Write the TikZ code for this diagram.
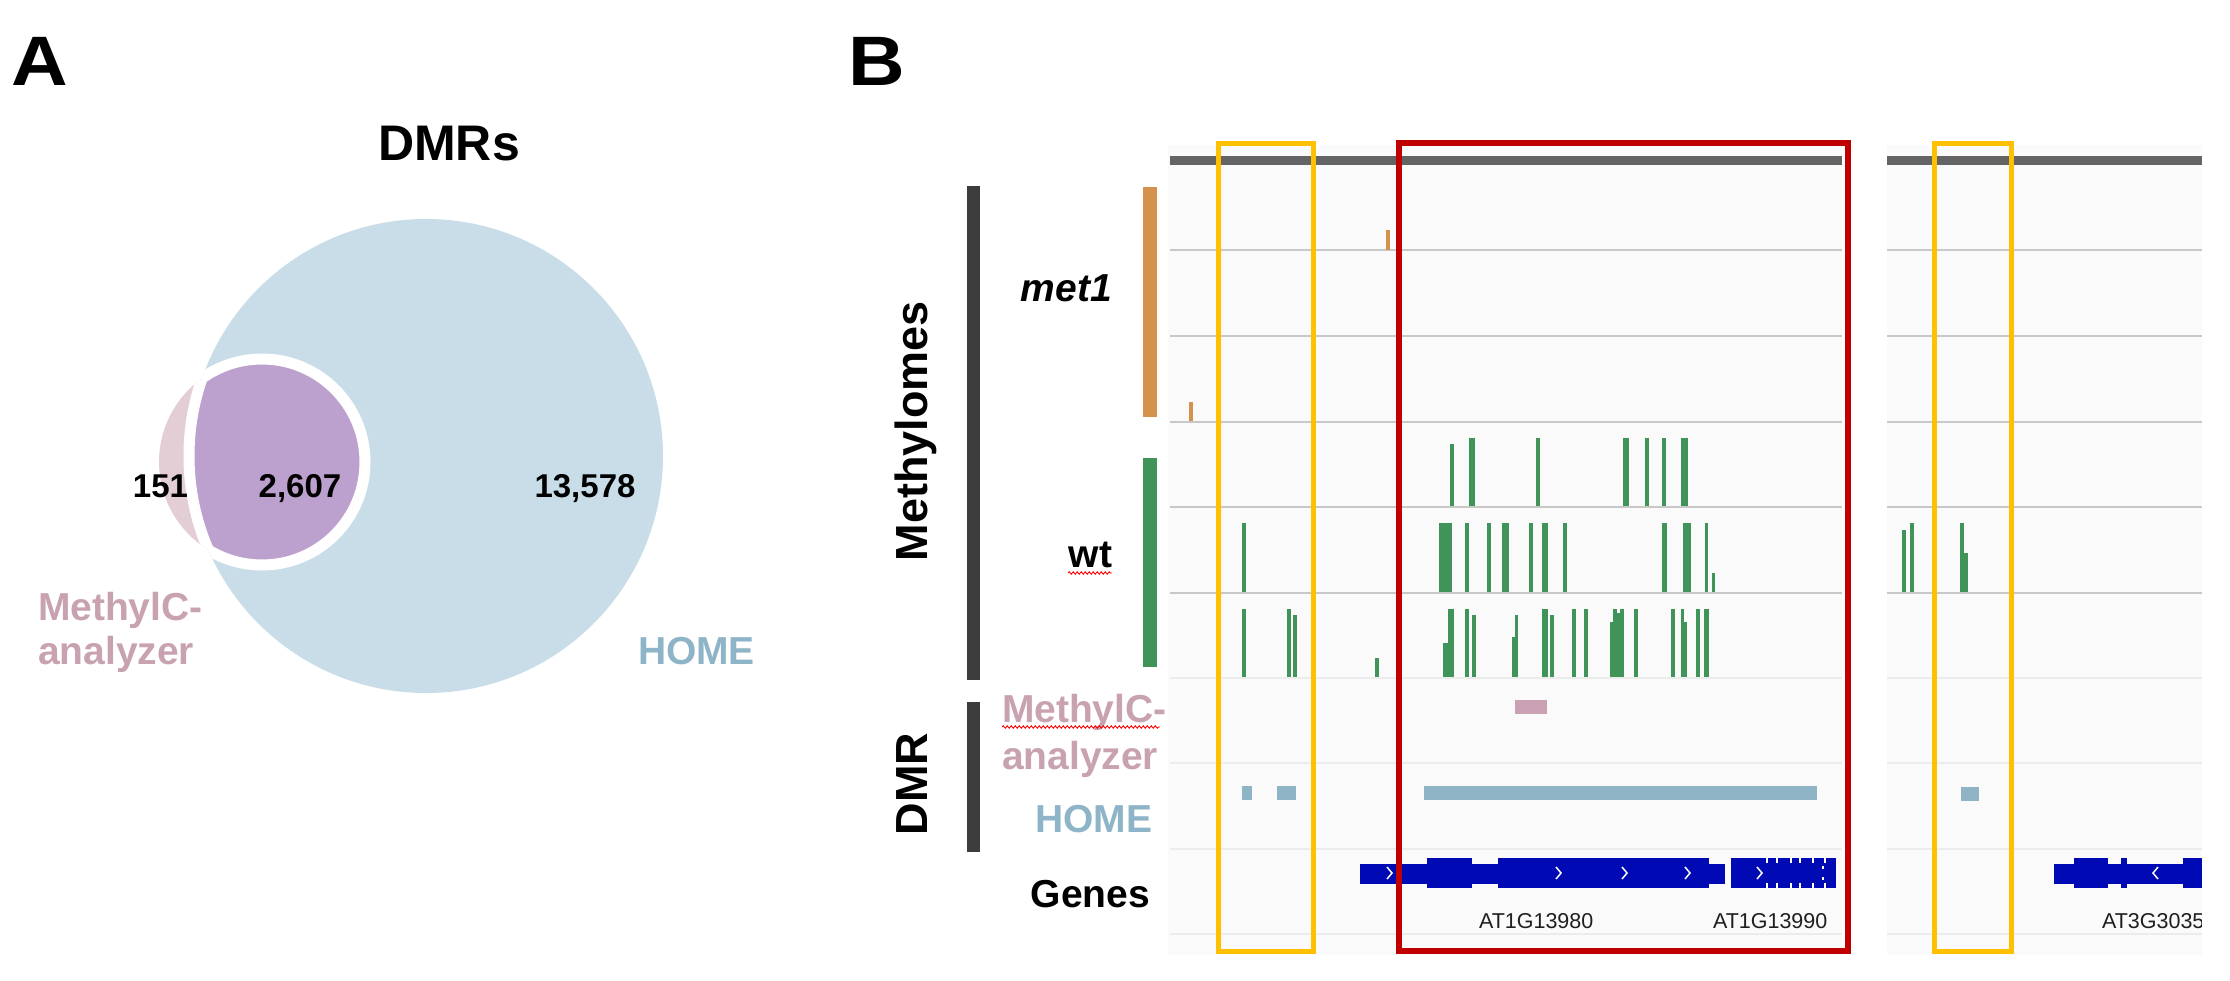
\documentclass[tikz,border=0pt]{standalone}
\usepackage{fontspec}
\setmainfont{Liberation Sans}
\usetikzlibrary{decorations.pathmorphing}
\definecolor{vblue}{RGB}{200,221,232}
\definecolor{vpurple}{RGB}{188,160,205}
\definecolor{vpink}{RGB}{228,206,214}
\definecolor{mctext}{RGB}{201,162,177}
\definecolor{hometext}{RGB}{142,180,200}
\definecolor{homebar}{RGB}{143,180,198}
\definecolor{mcbar}{RGB}{202,161,178}
\definecolor{orng}{RGB}{213,146,77}
\definecolor{grn}{RGB}{64,148,90}
\definecolor{darkbar}{RGB}{60,60,60}
\definecolor{genec}{RGB}{0,10,180}
\definecolor{ylw}{RGB}{255,192,0}
\definecolor{rd}{RGB}{192,0,0}
\definecolor{panelbg}{RGB}{250,250,250}
\definecolor{lnstrong}{RGB}{200,200,200}
\definecolor{lnfaint}{RGB}{236,236,236}
\definecolor{topbar}{RGB}{100,100,100}
\newcommand{\fsz}[1]{\fontsize{#1}{#1}\selectfont}
\newcommand{\gb}[3]{\fill[grn] (#1,#3) rectangle (#2,\tbase);}
\newcommand{\gthin}[2]{\fill[genec] (#1,864) rectangle (#2,884);}
\newcommand{\gthick}[2]{\fill[genec] (#1,858) rectangle (#2,888);}
\newcommand{\chevr}[1]{\draw[white, line width=1.5pt] (#1-3,867) -- (#1+2,873) -- (#1-3,879);}
\newcommand{\chevl}[1]{\draw[white, line width=1.5pt] (#1+3,867) -- (#1-2,873) -- (#1+3,879);}
\begin{document}
\begin{tikzpicture}[x=1pt,y=-1pt,
  every node/.style={inner sep=0pt, outer sep=0pt},
  big/.style={font=\bfseries\fsz{70}},
  lbl/.style={font=\bfseries\fsz{39}},
  num/.style={font=\bfseries\fsz{33}},
  side/.style={font=\bfseries\fsz{45}, rotate=90, anchor=base},
  glbl/.style={font=\fsz{21.5}, text=black!88},
  strongline/.style={draw=lnstrong, line width=2.5pt},
  faintline/.style={draw=lnfaint, line width=2pt},
  squig/.style={draw=red, line width=0.9pt, decorate, decoration={snake, amplitude=1.2pt, segment length=4pt}},
  boxy/.style={draw=ylw, line width=5pt},
  boxr/.style={draw=rd, line width=6pt}]
\useasboundingbox (0,0) rectangle (2230,980);
\fill[white] (0,0) rectangle (2230,980);

% ---------------- Panel A ----------------
\node[big, anchor=base west] (labA) at (12,85) {\scalebox{1.12}[1]{A}};
\node[font=\bfseries\fsz{50}, anchor=base] (dmrs) at (449,160) {DMRs};
\fill[vblue] (426,456) circle[radius=237];
\fill[vpink] (262,462) circle[radius=103];
\begin{scope}
  \clip (426,456) circle[radius=237];
  \fill[vpurple] (262,462) circle[radius=103];
  \draw[white, line width=11pt] (262,462) circle[radius=103];
\end{scope}
\begin{scope}
  \clip (262,462) circle[radius=103];
  \draw[white, line width=11pt] (426,456) circle[radius=237];
\end{scope}
\node[num, anchor=base east] (n151) at (188,497) {151};
\node[num, anchor=base] (n2607) at (300,497) {2,607};
\node[num, anchor=base] (n13578) at (585,497) {13,578};
\node[lbl, anchor=base west, text=mctext] (mcA1) at (38,620) {MethylC-};
\node[lbl, anchor=base west, text=mctext] (mcA2) at (38,664) {analyzer};
\node[lbl, anchor=base west, text=hometext] (homeA) at (638,664) {HOME};

% ---------------- Panel B labels ----------------
\node[big, anchor=base west] (labB) at (848,85) {\scalebox{1.12}[1]{B}};
\fill[darkbar] (967,186) rectangle (980,680);
\fill[darkbar] (967,702) rectangle (980,852);
\node[side] (methylomes) at (927,431) {Methylomes};
\node[side] (dmr) at (927,784) {DMR};
\node[lbl, anchor=base east] (met1) at (1112,301) {\itshape met1};
\node[lbl, anchor=base east] (wt) at (1112,567) {wt};
\draw[squig] (1068,573) -- (1112,573);
\node[lbl, anchor=base west, text=mctext] (mcB1) at (1002,722) {MethylC-};
\draw[squig] (1002,727) -- (1160,727);
\node[lbl, anchor=base west, text=mctext] (mcB2) at (1002,769) {analyzer};
\node[lbl, anchor=base east, text=hometext] (homeB) at (1152,832) {HOME};
\node[lbl, anchor=base east] (genes) at (1150,907) {Genes};
\fill[orng] (1143,187) rectangle (1157,417);
\fill[grn] (1143,458) rectangle (1157,667);

% ---------------- Browser panels ----------------
\fill[panelbg] (1168,145) rectangle (1842,955);
\fill[panelbg] (1887,145) rectangle (2202,955);
\foreach \xa/\xb in {1170/1842, 1887/2202}{
  \fill[topbar] (\xa,156) rectangle (\xb,165);
  \foreach \yy in {250,336,422,507,593}{\draw[strongline] (\xa,\yy) -- (\xb,\yy);}
  \foreach \yy in {678,763,849,934}{\draw[faintline] (\xa,\yy) -- (\xb,\yy);}
}

% met1 ticks
\fill[orng] (1386,230) rectangle (1389.5,250);
\fill[orng] (1189,402) rectangle (1193,421);

% wt track 1 (baseline 507)
\def\tbase{506}
\gb{1450}{1454}{444}
\gb{1469}{1475}{438}
\gb{1536}{1539.5}{438}
\gb{1623}{1629}{438}
\gb{1645}{1649}{438}
\gb{1662}{1666}{438}
\gb{1681}{1688}{438}

% wt track 2 (baseline 593)
\def\tbase{592}
\gb{1242}{1246}{523}
\gb{1439}{1452}{523}
\gb{1465}{1469}{523}
\gb{1487}{1490.5}{523}
\gb{1502}{1509}{523}
\gb{1529}{1533}{523}
\gb{1542}{1548}{523}
\gb{1563}{1567}{523}
\gb{1662}{1667}{523}
\gb{1683}{1691}{523}
\gb{1705}{1708}{523}
\gb{1712}{1715}{573}
\gb{1902}{1906}{530}
\gb{1910}{1914}{523}
\gb{1960}{1964}{523}
\gb{1964}{1968}{553}

% wt track 3 (baseline 678)
\def\tbase{677}
\gb{1242}{1246}{609}
\gb{1287}{1291}{609}
\gb{1293}{1297}{615}
\gb{1375}{1379}{658}
\gb{1443}{1448}{643}
\gb{1448}{1454}{609}
\gb{1465}{1468.5}{609}
\gb{1472}{1475.5}{615}
\gb{1512}{1515}{637}
\gb{1515}{1518}{615}
\gb{1542}{1548}{609}
\gb{1550}{1554}{615}
\gb{1572}{1576}{609}
\gb{1584}{1588}{609}
\gb{1610}{1613}{622}
\gb{1613}{1617}{609}
\gb{1617}{1620}{613}
\gb{1620}{1623.5}{609}
\gb{1634}{1638}{609}
\gb{1671}{1675}{609}
\gb{1681}{1684}{609}
\gb{1684}{1687}{622}
\gb{1696}{1700}{609}
\gb{1704}{1709}{609}

% DMR tracks
\fill[mcbar] (1515,700) rectangle (1547,714);
\fill[homebar] (1242,786) rectangle (1252,800);
\fill[homebar] (1277,786) rectangle (1296,800);
\fill[homebar] (1424,786) rectangle (1817,800);
\fill[homebar] (1961,787) rectangle (1979,801);

% Genes
\gthin{1360}{1427}
\gthick{1427}{1472}
\gthin{1472}{1498}
\gthick{1498}{1709}
\gthin{1709}{1725}
\gthick{1731}{1836}
\foreach \nx in {1767,1777,1791,1800,1813,1825}{
  \fill[white] (\nx-1.2,858) rectangle (\nx+1.2,863);
  \fill[white] (\nx-1.2,883) rectangle (\nx+1.2,888);
}
\chevr{1390}
\chevr{1559}
\chevr{1625}
\chevr{1688}
\chevr{1760}
\fill[white] (1822,866) rectangle (1824,869);
\fill[white] (1822,877) rectangle (1824,880);
\gthin{2054}{2074}
\gthick{2074}{2108}
\gthin{2108}{2121}
\gthick{2121}{2127}
\gthin{2127}{2183}
\gthick{2183}{2202}
\chevl{2155}
\node[glbl, anchor=base west] (g1) at (1479,928) {AT1G13980};
\node[glbl, anchor=base west] (g2) at (1713,928) {AT1G13990};
\begin{scope}
  \clip (2090,900) rectangle (2201,940);
  \node[glbl, anchor=base west] (g3) at (2102,928) {AT3G3035};
\end{scope}

% Highlight boxes
\draw[boxy] (1218,143) rectangle (1313,951);
\draw[boxr] (1399,143) rectangle (1848,951);
\draw[boxy] (1934.5,143) rectangle (2011.5,951);
\end{tikzpicture}
\end{document}
